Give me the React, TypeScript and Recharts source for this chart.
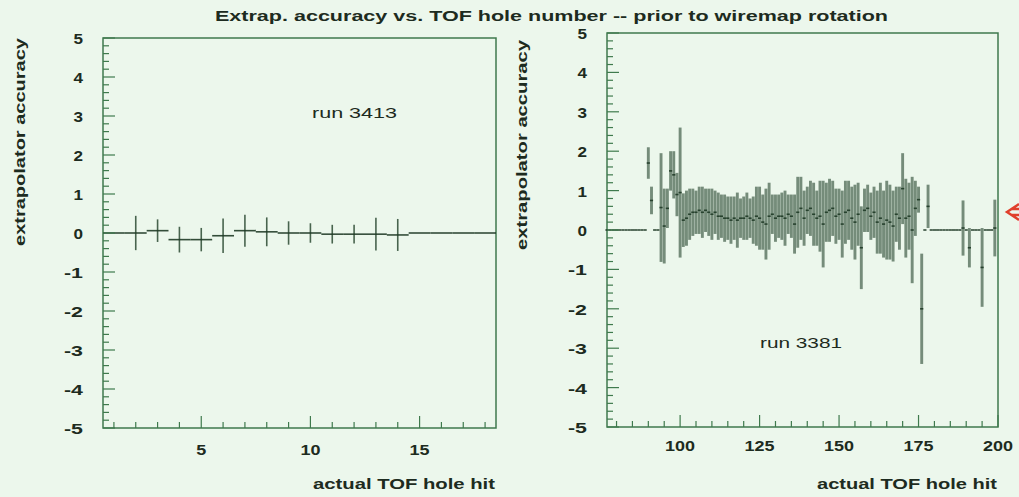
import React from 'react';
import { ComposedChart, Scatter, ErrorBar, XAxis, YAxis, ReferenceArea } from 'recharts';

// run 3413 : holes 1..18
const leftHoles = [1, 2, 3, 4, 5, 6, 7, 8, 9, 10, 11, 12, 13, 14, 15, 16, 17, 18];
const leftAcc = [0, 0, 0.06, -0.17, -0.17, -0.07, 0.06, 0.03, 0, 0, -0.03, -0.03, -0.03, -0.05, 0, 0, 0, 0];
const leftErr = [0, 0.44, 0.29, 0.33, 0.3, 0.44, 0.41, 0.37, 0.3, 0.25, 0.24, 0.24, 0.42, 0.41, 0, 0, 0, 0];

// run 3381 : holes 77..199
const rightFirstHole = 77;
const rightAcc = [
  0, 0, 0,
  0, 0, 0, 0, 0, 0, 0, 0, 0, 0,
  1.7, 0.75, 0, 0, 0.57, 0.1, 0.55, 1.5, 1.4, 0.9,
  0.95, 0.25, 0.3, 0.4, 0.45, 0.45, 0.5, 0.45, 0.5, 0.45,
  0.4, 0.45, 0.35, 0.35, 0.3, 0.3, 0.25, 0.3, 0.25, 0.3,
  0.3, 0.35, 0.3, 0.25, 0.35, 0.3, 0.2, 0.15, 0.35, 0.4,
  0.3, 0.35, 0.35, 0.3, 0.4, 0.35, 0.15, 0.45, 0.55, 0.3,
  0.5, 0.55, 0.4, 0.3, 0.35, 0.15, 0.45, 0.5, 0.55, 0.35,
  0.4, 0.15, 0.45, 0.5, 0.3, 0.2, 0.4, -0.45, 0.5, 0.55,
  0.35, 0.45, 0.2, 0.3, 0.15, 0.25, 0.2, 0.1, 0.4, 0.3,
  1.05, 0.3, 0.35, 0, 0.55, 0.77, -2.0, 0, 0.6, 0,
  0, 0, 0, 0, 0, 0, 0, 0, 0, 0.05,
  0, -0.45, 0, 0, 0, -0.95, 0, 0, 0, 0.05,
];
const rightErr = [
  0, 0, 0,
  0, 0, 0, 0, 0, 0, 0, 0, 0, 0,
  0.4, 0.35, 0, 0, 1.38, 0.95, 0.5, 0.5, 0.6, 0.55,
  1.65, 0.68, 0.7, 0.65, 0.6, 0.55, 0.6, 0.65, 0.55, 0.6,
  0.65, 0.55, 0.6, 0.55, 0.6, 0.55, 0.6, 0.55, 0.7, 0.5,
  0.55, 0.6, 0.5, 0.6, 0.75, 0.8, 0.7, 0.9, 0.85, 0.5,
  0.6, 0.55, 0.6, 0.7, 0.5, 0.55, 0.75, 0.9, 0.8, 0.7,
  0.6, 0.7, 0.8, 0.7, 0.9, 1.1, 0.75, 0.8, 0.7, 0.7,
  0.65, 0.85, 0.8, 0.75, 0.8, 0.95, 0.8, 1.05, 0.55, 0.6,
  0.6, 0.65, 0.8, 0.9, 0.85, 1.0, 0.95, 0.9, 0.7, 0.8,
  0.9, 1.0, 0.85, 1.35, 0.7, 0.33, 1.4, 0, 0.55, 0,
  0, 0, 0, 0, 0, 0, 0, 0, 0, 0.7,
  0, 0.5, 0, 0, 0, 1.0, 0, 0, 0, 0.72,
];

const yLabels = [-5, -4, -3, -2, -1, 0, 1, 2, 3, 4, 5];
const leftXLabels = [5, 10, 15];
const rightXLabels = [100, 125, 150, 175, 200];

const frameColor = '#3f7a4d';
const inkColor = '#1d2b20';
const barColor = '#2b4a33';
const font = '"Liberation Sans", Arial, Helvetica, sans-serif';

const leftRows = leftHoles.map((h, i) => ({ hole: h, acc: leftAcc[i], err: leftErr[i], half: 0.5 }));
const rightRows = rightAcc.map((v, i) => ({ hole: rightFirstHole + i, acc: v, err: rightErr[i], half: 0.5 }));

const yTicks: number[] = [];
for (let v = -50; v <= 50; v += 2) yTicks.push(v / 10);

const leftXTicks: number[] = [];
for (let v = 1; v <= 18; v++) leftXTicks.push(v);
const rightXTicks: number[] = [];
for (let v = 80; v <= 200; v += 5) rightXTicks.push(v);

const noDot = () => <g />;

const YTick = (props: any) => {
  const { x, y, payload } = props;
  const major = yLabels.includes(payload.value);
  const s = String(payload.value);
  return (
    <g>
      <line x1={x} y1={y} x2={x + (major ? 12 : 6)} y2={y} stroke={frameColor} strokeWidth={1.2} />
      {major && (
        <text x={x - 20} y={y + 6} textAnchor="end" fontFamily={font} fontWeight="bold" fontSize={15}
          fill={inkColor} textLength={s.length * 9.5} lengthAdjust="spacingAndGlyphs">{s}</text>
      )}
    </g>
  );
};

const makeXTick = (labels: number[], dy: number) => (props: any) => {
  const { x, y, payload } = props;
  const major = labels.includes(payload.value);
  const s = String(payload.value);
  return (
    <g>
      <line x1={x} y1={y} x2={x} y2={y - (major ? 12 : 6)} stroke={frameColor} strokeWidth={1.2} />
      {major && (
        <text x={x} y={y + dy} textAnchor="middle" fontFamily={font} fontWeight="bold" fontSize={15}
          fill={inkColor} textLength={s.length * 10} lengthAdjust="spacingAndGlyphs">{s}</text>
      )}
    </g>
  );
};

const LeftXTick = makeXTick(leftXLabels, 27);
const RightXTick = makeXTick(rightXLabels, 24);

const Panel = ({ rows, domain, xTicks, XTick, width, margin, barWidth, barOpacity }: any) => (
  <ComposedChart width={width} height={497} data={rows} margin={margin}>
    <XAxis dataKey="hole" type="number" domain={domain} allowDataOverflow ticks={xTicks} interval={0}
      height={30} tickSize={0} tickMargin={0} axisLine={false} tickLine={false} tick={(p: any) => <XTick {...p} />} />
    <YAxis type="number" domain={[-5, 5]} allowDataOverflow ticks={yTicks} interval={0}
      width={30} tickSize={0} tickMargin={0} axisLine={false} tickLine={false} tick={(p: any) => <YTick {...p} />} />
    <ReferenceArea x1={domain[0]} x2={domain[1]} y1={-5} y2={5} fill="none" stroke={frameColor} strokeWidth={1.5} fillOpacity={0} />
    <Scatter dataKey="acc" shape={noDot} isAnimationActive={false}>
      <ErrorBar dataKey="err" direction="y" width={0} stroke={barColor} strokeWidth={barWidth} strokeOpacity={barOpacity} isAnimationActive={false} />
      <ErrorBar dataKey="half" direction="x" width={0} stroke="#1f3a26" strokeWidth={1.6} strokeOpacity={0.9} isAnimationActive={false} />
    </Scatter>
  </ComposedChart>
);

export default function App() {
  return (
    <div style={{ position: 'absolute', left: 0, top: 0, width: 1019, height: 497, background: '#ecf7ec', overflow: 'hidden' }}>
      <div style={{ position: 'absolute', left: 0, top: 0 }}>
        <Panel rows={leftRows} domain={[0.5, 18.5]} xTicks={leftXTicks} XTick={LeftXTick} width={520}
          barWidth={1.6} barOpacity={0.85} margin={{ top: 38, right: 24, bottom: 39, left: 73 }} />
      </div>
      <div style={{ position: 'absolute', left: 520, top: 0 }}>
        <Panel rows={rightRows} domain={[77, 200]} xTicks={rightXTicks} XTick={RightXTick} width={499}
          barWidth={2.9} barOpacity={0.62} margin={{ top: 33, right: 21, bottom: 40, left: 57 }} />
      </div>
      <svg width={1019} height={497} style={{ position: 'absolute', left: 0, top: 0, pointerEvents: 'none' }}>
        <g fontFamily={font} fill={inkColor}>
          <text x={215} y={21} fontWeight="bold" fontSize={14} textLength={673} lengthAdjust="spacingAndGlyphs">
            Extrap. accuracy vs. TOF hole number -- prior to wiremap rotation
          </text>
          <text x={312} y={118} fontSize={15} textLength={85} lengthAdjust="spacingAndGlyphs">run 3413</text>
          <text x={760} y={348} fontSize={15} textLength={82} lengthAdjust="spacingAndGlyphs">run 3381</text>
          <text x={313} y={489} fontWeight="bold" fontSize={14} textLength={182} lengthAdjust="spacingAndGlyphs">actual TOF hole hit</text>
          <text x={817} y={489} fontWeight="bold" fontSize={14} textLength={180} lengthAdjust="spacingAndGlyphs">actual TOF hole hit</text>
          <text transform="translate(25,142) rotate(-90)" textAnchor="middle" fontWeight="bold" fontSize={14}
            textLength={208} lengthAdjust="spacingAndGlyphs">extrapolator accuracy</text>
          <text transform="translate(527,145) rotate(-90)" textAnchor="middle" fontWeight="bold" fontSize={14}
            textLength={210} lengthAdjust="spacingAndGlyphs">extrapolator accuracy</text>
        </g>
        <path d="M1019,204 L1007,212 L1019,220 M1011,209 H1019 M1011,215 H1019" stroke="#e0402c" strokeWidth={2.5} fill="none" />
      </svg>
    </div>
  );
}
